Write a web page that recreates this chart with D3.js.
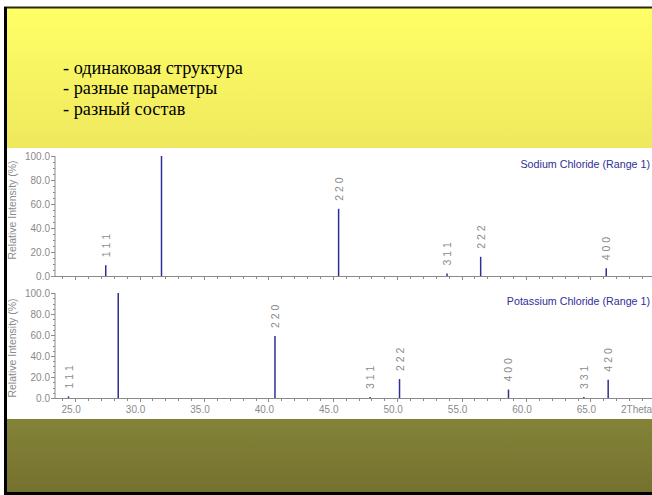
<!DOCTYPE html>
<html>
<head>
<meta charset="utf-8">
<script src="https://cdn.jsdelivr.net/npm/d3@7/dist/d3.min.js"></script>
<style>
  html, body { margin: 0; padding: 0; background: #fff; }
  svg { display: block; }
</style>
</head>
<body>
<svg id="chart" width="652" height="495"></svg>
<script>
// Slide bullet points
const bullets = ["- одинаковая структура", "- разные параметры", "- разный состав"];

// Sodium chloride reference pattern (2θ, relative intensity %, hkl)
const naclTheta = [27.37, 31.70, 45.45, 53.87, 56.48, 66.23];
const naclIntensity = [9, 100, 56, 2, 16, 6.5];
const naclHkl = ["1 1 1", null, "2 2 0", "3 1 1", "2 2 2", "4 0 0"];

// Potassium chloride reference pattern
const kclTheta = [24.48, 28.34, 40.51, 47.90, 50.18, 58.64, 64.49, 66.38];
const kclIntensity = [1.5, 100, 59, 1, 18, 8, 1, 17.5];
const kclHkl = ["1 1 1", null, "2 2 0", "3 1 1", "2 2 2", "4 0 0", "3 3 1", "4 2 0"];

// Axis ticks
const xTickLabels = [25, 30, 35, 40, 45, 50, 55, 60, 65];
const yTickLabels = [0, 20, 40, 60, 80, 100];

const svg = d3.select("#chart");
const FONT = "'Liberation Sans', Arial, sans-serif";
const GRAY = "#8a8a8a";
const BLUE = "#2f2f96";

// ---- slide background ----
const defs = svg.append("defs");
const gy = defs.append("linearGradient").attr("id", "yellowGrad").attr("x1", 0).attr("y1", 0).attr("x2", 0).attr("y2", 1);
gy.append("stop").attr("offset", 0).attr("stop-color", "#ffff66");
gy.append("stop").attr("offset", 1).attr("stop-color", "#efe85e");
const go = defs.append("linearGradient").attr("id", "oliveGrad").attr("x1", 0).attr("y1", 0).attr("x2", 0).attr("y2", 1);
go.append("stop").attr("offset", 0).attr("stop-color", "#838338");
go.append("stop").attr("offset", 1).attr("stop-color", "#75712f");

svg.append("rect").attr("x", 0).attr("y", 0).attr("width", 652).attr("height", 495).attr("fill", "#ffffff");
svg.append("rect").attr("x", 6).attr("y", 8).attr("width", 646).attr("height", 140).attr("fill", "url(#yellowGrad)");
svg.append("rect").attr("x", 6).attr("y", 419).attr("width", 646).attr("height", 74).attr("fill", "url(#oliveGrad)");
// frame edges
svg.append("rect").attr("x", 4).attr("y", 6.5).attr("width", 648).attr("height", 2).attr("fill", "#2a2a10");
svg.append("rect").attr("x", 4).attr("y", 7).attr("width", 3).attr("height", 488).attr("fill", "#000");
svg.append("rect").attr("x", 4).attr("y", 492).attr("width", 648).attr("height", 3).attr("fill", "#000");

// ---- bullet text ----
svg.append("g").selectAll("text").data(bullets).join("text")
  .attr("x", 63)
  .attr("y", (d, i) => 74 + i * 20.3)
  .attr("font-family", "'Liberation Serif', 'Times New Roman', serif")
  .attr("font-size", 18.3)
  .attr("fill", "#000")
  .text(d => d);

// ---- shared x scale (2θ) ----
const x = d3.scaleLinear().domain([23.4, 70]).range([54.6, 654.8]);
const AXIS_X = 55;

function panel(opts) {
  const { theta, intensity, hkl, y0, y100, legend, legendY, showXLabels, titleY } = opts;
  const y = d3.scaleLinear().domain([0, 100]).range([y0, y100]);
  const g = svg.append("g");

  // y axis
  g.append("line").attr("x1", AXIS_X).attr("x2", AXIS_X).attr("y1", y(0)).attr("y2", y(100))
    .attr("stroke", GRAY).attr("stroke-width", 1);
  const yMinor = d3.range(0, 100.1, 5);
  g.append("g").selectAll("line").data(yMinor).join("line")
    .attr("x1", d => AXIS_X - (d % 20 === 0 ? 4 : 2)).attr("x2", AXIS_X)
    .attr("y1", d => Math.round(y(d)) + 0.5).attr("y2", d => Math.round(y(d)) + 0.5)
    .attr("stroke", GRAY).attr("stroke-width", 1);
  g.append("g").selectAll("text").data(yTickLabels).join("text")
    .attr("x", 50).attr("y", d => y(d) + 3.5)
    .attr("text-anchor", "end")
    .attr("font-family", FONT).attr("font-size", 10).attr("fill", GRAY)
    .text(d => d.toFixed(1));

  // y axis title
  g.append("text")
    .attr("transform", `translate(16,${titleY}) rotate(-90)`)
    .attr("text-anchor", "middle")
    .attr("font-family", FONT).attr("font-size", 10.5).attr("fill", GRAY)
    .text("Relative Intensity (%)");

  // x axis
  g.append("line").attr("x1", AXIS_X).attr("x2", 652).attr("y1", y(0) + 0.5).attr("y2", y(0) + 0.5)
    .attr("stroke", GRAY).attr("stroke-width", 1);
  const xMinor = d3.range(24, 70, 1);
  g.append("g").selectAll("line").data(xMinor).join("line")
    .attr("x1", d => Math.round(x(d)) + 0.5).attr("x2", d => Math.round(x(d)) + 0.5)
    .attr("y1", y(0)).attr("y2", d => y(0) + (d % 5 === 0 ? 4 : 3))
    .attr("stroke", GRAY).attr("stroke-width", 1);

  if (showXLabels) {
    g.append("g").selectAll("text").data(xTickLabels).join("text")
      .attr("x", d => x(d) - 4).attr("y", y(0) + 15)
      .attr("text-anchor", "middle")
      .attr("font-family", FONT).attr("font-size", 10).attr("fill", GRAY)
      .text(d => d.toFixed(1));
    g.append("text").attr("x", 621).attr("y", y(0) + 15)
      .attr("font-family", FONT).attr("font-size", 10).attr("fill", GRAY)
      .text("2Theta");
  }

  // peak sticks
  const peaks = theta.map((t, i) => ({ t, v: intensity[i], h: hkl[i] }));
  g.append("g").selectAll("line").data(peaks).join("line")
    .attr("x1", d => x(d.t)).attr("x2", d => x(d.t))
    .attr("y1", y(0)).attr("y2", d => y(d.v))
    .attr("stroke", BLUE).attr("stroke-width", 1.5);

  // hkl labels above sticks
  g.append("g").selectAll("text").data(peaks.filter(d => d.h)).join("text")
    .attr("transform", d => `translate(${x(d.t)},${y(d.v) - 8}) rotate(-90)`)
    .attr("dominant-baseline", "central")
    .attr("font-family", FONT).attr("font-size", 10.5).attr("fill", GRAY)
    .text(d => d.h);

  // legend
  g.append("text").attr("x", 650).attr("y", legendY)
    .attr("text-anchor", "end")
    .attr("font-family", FONT).attr("font-size", 10.7).attr("fill", BLUE)
    .text(legend);
}

panel({ theta: naclTheta, intensity: naclIntensity, hkl: naclHkl, y0: 276, y100: 156,
        legend: "Sodium Chloride (Range 1)", legendY: 168, showXLabels: false, titleY: 210 });
panel({ theta: kclTheta, intensity: kclIntensity, hkl: kclHkl, y0: 398, y100: 293,
        legend: "Potassium Chloride (Range 1)", legendY: 305, showXLabels: true, titleY: 348 });
</script>
</body>
</html>
